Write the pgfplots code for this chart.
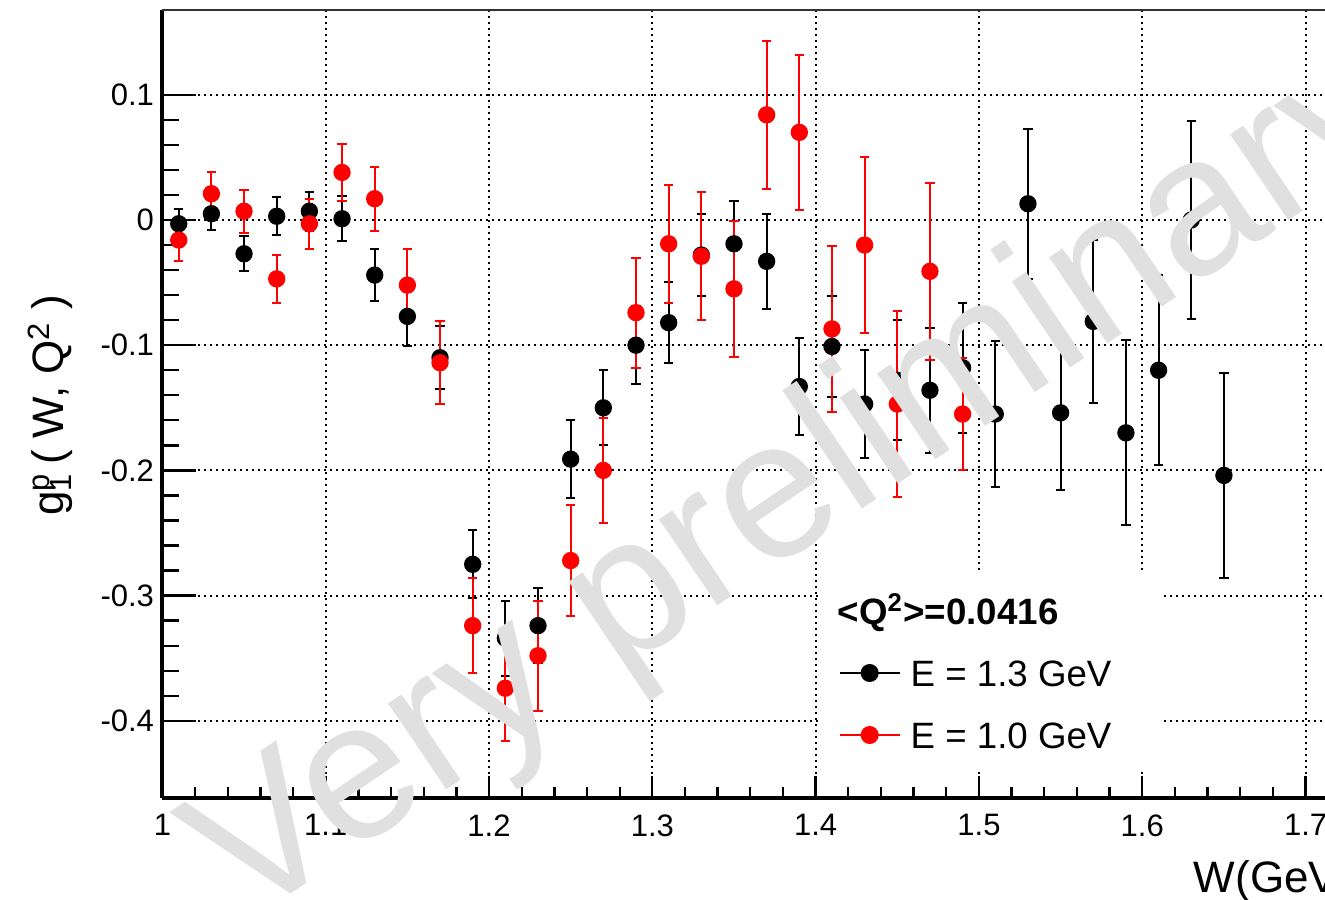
\documentclass[border=0pt]{standalone}
\usepackage{pgfplots}
\pgfplotsset{compat=1.18}
\usepackage{pgfplotstable}
\usepackage{fontspec}
\setmainfont{Liberation Sans}

% g1p(W,Q^2) at <Q^2> = 0.0416, beam energy 1.3 GeV
\pgfplotstableread{
x     y       e
1.01  -0.003  0.012
1.03   0.005  0.013
1.05  -0.027  0.014
1.07   0.003  0.015
1.09   0.007  0.0155
1.11   0.001  0.018
1.13  -0.044  0.021
1.15  -0.077  0.024
1.17  -0.110  0.025
1.19  -0.275  0.027
1.21  -0.334  0.030
1.23  -0.324  0.030
1.25  -0.191  0.031
1.27  -0.150  0.030
1.29  -0.100  0.031
1.31  -0.082  0.0325
1.33  -0.028  0.033
1.35  -0.019  0.034
1.37  -0.033  0.038
1.39  -0.133  0.0386
1.41  -0.101  0.040
1.43  -0.147  0.043
1.45  -0.128  0.048
1.47  -0.136  0.050
1.49  -0.118  0.052
1.51  -0.155  0.058
1.53   0.013  0.060
1.55  -0.154  0.062
1.57  -0.081  0.065
1.59  -0.170  0.074
1.61  -0.120  0.076
1.63   0.000  0.079
1.65  -0.204  0.082
}\dataHigh

% beam energy 1.0 GeV
\pgfplotstableread{
x     y       e
1.01  -0.016  0.017
1.03   0.021  0.017
1.05   0.007  0.017
1.07  -0.047  0.019
1.09  -0.003  0.020
1.11   0.038  0.023
1.13   0.017  0.0255
1.15  -0.052  0.0285
1.17  -0.114  0.033
1.19  -0.324  0.038
1.21  -0.374  0.042
1.23  -0.348  0.044
1.25  -0.272  0.044
1.27  -0.200  0.042
1.29  -0.074  0.044
1.31  -0.019  0.047
1.33  -0.029  0.051
1.35  -0.055  0.0545
1.37   0.084  0.059
1.39   0.070  0.062
1.41  -0.087  0.066
1.43  -0.020  0.070
1.45  -0.147  0.074
1.47  -0.041  0.0705
1.49  -0.155  0.045
}\dataLow

\begin{document}
\begin{tikzpicture}
\useasboundingbox (-48.72pt,-30.3pt) rectangle (348.78pt,239.4pt);
\clip (-48.72pt,-30.3pt) rectangle (348.78pt,239.4pt);
\begin{axis}[
  name=ax, at={(0pt,0pt)}, anchor=south west,
  scale only axis, width=352.74pt, height=236.4pt,
  xmin=1, xmax=1.72, ymin=-0.46166, ymax=0.16773,
  axis x line*=bottom, axis y line*=left,
  axis line style={line width=1.2pt, -},
  clip=false,
  xtick={1,1.1,1.2,1.3,1.4,1.5,1.6,1.7},
  xticklabels={1,1.1,1.2,1.3,1.4,1.5,1.6,1.7},
  ytick={-0.4,-0.3,-0.2,-0.1,0,0.1},
  yticklabels={-0.4,-0.3,-0.2,-0.1,0,0.1},
  minor x tick num=4, minor y tick num=4,
  tick align=inside,
  tick style={black, line width=0.7pt},
  xtick style={/pgfplots/major tick length=6.6pt, /pgfplots/minor tick length=3.3pt},
  ytick style={/pgfplots/major tick length=10.2pt, /pgfplots/minor tick length=5.1pt},
  ticklabel style={font=\fontsize{9.3}{11}\selectfont},
  xticklabel style={yshift=-1.4pt},
  yticklabel style={xshift=1pt},
  grid=major,
  major grid style={black, line width=0.6pt, dash pattern=on 0.6pt off 1.2pt},
  xlabel={W(GeV)},
  xlabel style={at={(axis description cs:0.8672,-0.1193)}, anchor=base west,
                font=\fontsize{13.2}{15}\selectfont},
  ylabel={g\textsubscript{1}\llap{\textsuperscript{p}}\,( W, Q\textsuperscript{2} )},
  ylabel style={at={(axis description cs:-0.0953,0.4987)}, anchor=center,
                font=\fontsize{13.2}{15}\selectfont},
  legend image code/.code={
    \draw[mark repeat=2, mark phase=2, #1]
      plot coordinates {(0pt,0.8pt) (9pt,0.8pt) (18pt,0.8pt)};},
  legend style={at={(axis description cs:0.5746,0.2572)}, anchor=north west,
                draw=none, fill=none, inner sep=0pt, row sep=8pt, column sep=3pt,
                font=\fontsize{11}{13}\selectfont,
                nodes={inner sep=0pt, text height=8.6pt, text depth=2pt},
                cells={anchor=west}},
]
% white legend panel over the grid
\fill[white] (rel axis cs:0.561,0.0368) rectangle (rel axis cs:0.8484,0.288);

\addplot[black, only marks, mark=*, mark size=2.4pt,
  mark options={fill=black, draw=black}, forget plot,
  error bars/.cd, y dir=both, y explicit,
  error bar style={line width=0.6pt, black},
  error mark options={rotate=90, line width=0.6pt, mark size=1.4pt, black}]
  table[x=x, y=y, y error=e] {\dataHigh};

\addplot[red, only marks, mark=*, mark size=2.4pt,
  mark options={fill=red, draw=red}, forget plot,
  error bars/.cd, y dir=both, y explicit,
  error bar style={line width=0.6pt, red},
  error mark options={rotate=90, line width=0.6pt, mark size=1.4pt, red}]
  table[x=x, y=y, y error=e] {\dataLow};

\addlegendimage{empty legend}
\addlegendentry{\hspace*{-21.9pt}\textbf{<Q\textsuperscript{2}>=0.0416}}
\addlegendimage{black, line width=0.6pt, mark=*, mark size=2.4pt, mark options={fill=black}}
\addlegendentry{E = 1.3 GeV}
\addlegendimage{red, line width=0.6pt, mark=*, mark size=2.4pt, mark options={fill=red}}
\addlegendentry{E = 1.0 GeV}
\end{axis}
% upper frame line
\draw[line width=0.7pt, black!80] (ax.north west) -- (ax.north east);
% watermark
\node[rotate=34, anchor=base, text=black!12, inner sep=0pt,
      font=\fontsize{59}{59}\selectfont] at (200pt,80pt) {Very preliminary};
\end{tikzpicture}
\end{document}
